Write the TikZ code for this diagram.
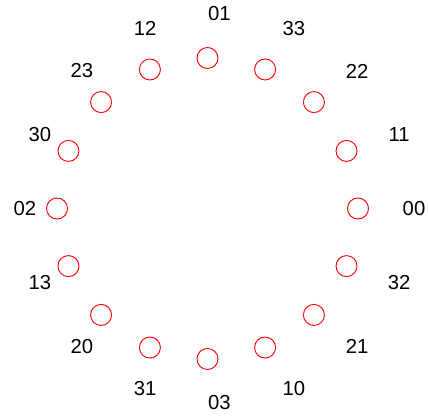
\documentclass[tikz,border=0pt]{standalone}
\usepackage{fontspec}
\setmainfont{Liberation Sans}
\usetikzlibrary{calc}
\tikzset{
  site/.style={circle, draw=red, line width=0.7pt, minimum size=15.75pt, inner sep=0pt},
  sitelabel/.style={font=\fontsize{15.2}{18}\selectfont, inner sep=0pt}
}
\begin{document}
\begin{tikzpicture}[x=0.75pt, y=0.75pt]
  \useasboundingbox (-207.5,-209.5) rectangle (220.5,208.5);
  % sites on the ring, labels pushed outwards
  \foreach \name [count=\i from 0] in {00,11,22,33,01,12,23,30,02,13,20,31,03,10,21,32} {
    \node[site] (v\name) at ({\i*22.5}:150.5) {};
    \node[sitelabel] (l\name) at ($({\i*22.5}:194.5)+(12,0)$) {\name};
  }
\end{tikzpicture}
\end{document}
